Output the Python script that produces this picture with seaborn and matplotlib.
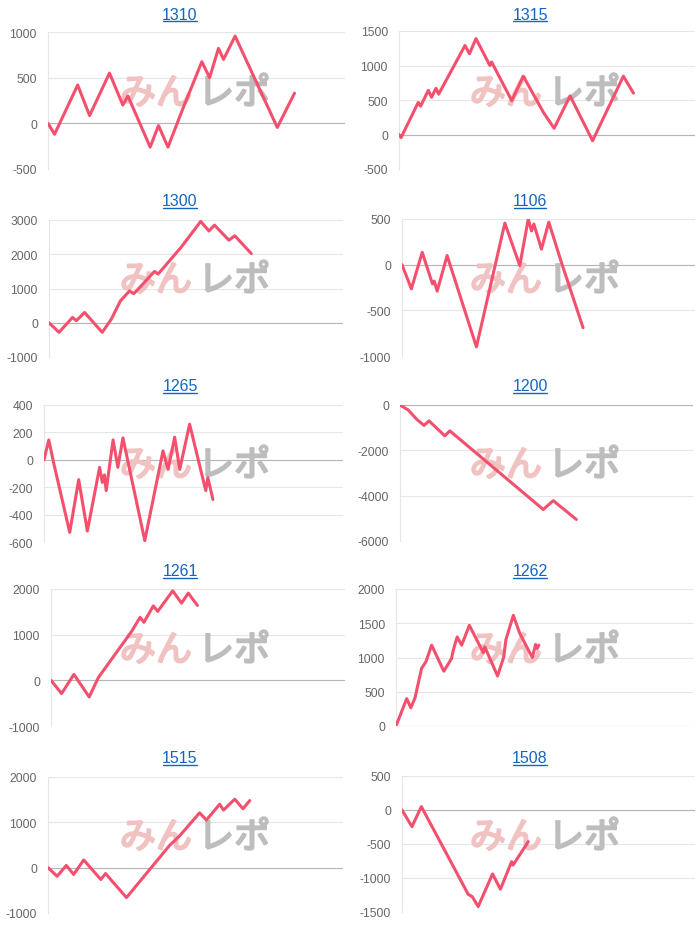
import numpy as np
import matplotlib
matplotlib.use("Agg")
import matplotlib.pyplot as plt
import matplotlib.patheffects as pe
from matplotlib.lines import Line2D
import seaborn as sns

# store names (titles) in grid order
stores = ["1310", "1315", "1300", "1106", "1265", "1200", "1261", "1262", "1515", "1508"]

# x = progress of the day (0..100), y = cumulative balance
x_1310 = [0, 2.2, 10.0, 14.0, 20.7, 25.2, 26.9, 34.4, 37.2, 40.4, 45.4, 51.8, 54.4, 57.4, 59.1, 63.0, 77.2, 83.0]
y_1310 = [0, -120, 420, 85, 550, 200, 300, -260, -25, -260, 160, 675, 500, 820, 700, 955, -45, 330]

x_1315 = [0, 0.7, 6.5, 7.3, 9.9, 11.0, 12.5, 13.4, 22.3, 23.8, 26.0, 30.7, 31.3, 38.1, 42.0, 48.8, 52.4, 57.8, 65.4, 75.8, 79.2]
y_1315 = [0, -45, 465, 410, 640, 540, 670, 585, 1290, 1170, 1390, 1000, 1050, 490, 845, 320, 90, 560, -90, 845, 600]

x_1300 = [0, 3.4, 8.0, 9.3, 12.1, 18.1, 21.2, 24.3, 27.4, 28.8, 30.3, 35.9, 37.1, 45.0, 51.6, 54.4, 56.3, 61.2, 63.2, 68.8]
y_1300 = [0, -280, 155, 60, 300, -280, 105, 640, 930, 850, 980, 1500, 1420, 2210, 2960, 2680, 2850, 2410, 2540, 2020]

x_1106 = [0, 3.2, 6.9, 10.4, 11.0, 12.0, 15.4, 25.4, 35.1, 40.2, 43.1, 44.2, 45.0, 47.6, 50.1, 54.4, 61.8]
y_1106 = [0, -265, 135, -210, -180, -290, 100, -900, 455, -10, 500, 370, 445, 170, 465, 25, -690]

x_1265 = [0, 1.6, 3.2, 8.6, 11.6, 14.5, 18.6, 19.5, 20.2, 20.8, 23.1, 24.7, 26.4, 33.7, 39.8, 41.5, 43.7, 45.4, 48.7, 54.1, 54.8, 56.5]
y_1265 = [0, 145, -20, -530, -145, -520, -55, -165, -110, -225, 145, -55, 160, -590, 65, -70, 165, -70, 260, -225, -130, -290]

x_1200 = [0, 2.8, 5.7, 8.2, 9.9, 15.3, 17.0, 48.9, 52.3, 60.2]
y_1200 = [0, -220, -630, -900, -700, -1360, -1140, -4610, -4220, -5050]

x_1261 = [0, 3.6, 7.8, 13.0, 16.1, 27.4, 30.3, 31.6, 34.8, 36.3, 41.4, 44.4, 46.7, 49.8]
y_1261 = [0, -290, 130, -365, 60, 1070, 1380, 1270, 1630, 1510, 1960, 1690, 1910, 1640]

x_1262 = [0, 3.6, 5.0, 6.4, 8.6, 10.1, 12.0, 16.1, 18.7, 19.3, 20.6, 22.1, 24.7, 29.4, 29.9, 34.2, 36.3, 37.0, 39.5, 41.7, 45.9, 47.0, 47.5, 48.1]
y_1262 = [0, 400, 265, 410, 840, 940, 1180, 800, 985, 1110, 1300, 1180, 1470, 1070, 1155, 730, 1010, 1260, 1615, 1350, 1000, 1190, 1130, 1180]

x_1515 = [0, 3.1, 6.2, 8.7, 12.1, 17.9, 19.5, 26.6, 41.2, 44.6, 51.4, 53.7, 58.2, 59.5, 63.3, 66.1, 68.4]
y_1515 = [0, -190, 50, -150, 170, -260, -130, -660, 490, 700, 1210, 1050, 1400, 1270, 1510, 1300, 1480]

x_1508 = [0, 3.4, 6.6, 22.6, 24.0, 26.0, 30.9, 33.6, 37.4, 37.9, 43.1]
y_1508 = [0, -245, 50, -1240, -1275, -1420, -940, -1165, -760, -810, -465]

xs = [x_1310, x_1315, x_1300, x_1106, x_1265, x_1200, x_1261, x_1262, x_1515, x_1508]
ys = [y_1310, y_1315, y_1300, y_1106, y_1265, y_1200, y_1261, y_1262, y_1515, y_1508]

# y axis (min, max, step)
y_ranges = [(-500, 1000, 500), (-500, 1500, 500), (-1000, 3000, 1000), (-1000, 500, 500),
            (-600, 400, 200), (-6000, 0, 2000), (-1000, 2000, 1000), (0, 2000, 500),
            (-1000, 2000, 1000), (-1500, 500, 500)]

# plot area in pixels: left, right, top, bottom
boxes = [(48, 345, 33, 170), (399, 695, 32, 170),
         (49, 343, 221, 358), (402, 695, 220, 357),
         (44, 343, 406, 543), (400, 693, 406, 542),
         (51, 345, 590, 727), (396, 693, 590, 727),
         (48, 343, 778, 914), (402, 695, 777, 913)]
title_y = [15, 202, 387, 572, 759]

W, H = 700, 929
LINE = "#f4506e"
TICK_C = "#666666"
GRID_C = "#e6e6e6"
PINK_WM = "#f0c2c2"
GRAY_WM = "#bdbdbd"

sns.set_style("white")
plt.rcParams["font.family"] = ["Liberation Sans", "DejaVu Sans"]
plt.rcParams["axes.unicode_minus"] = False

fig = plt.figure(figsize=(W / 100, H / 100), dpi=100)
titles = []

for i, name in enumerate(stores):
    l, r, t, b = boxes[i]
    ax = fig.add_axes([l / W, 1 - b / H, (r - l) / W, (b - t) / H])
    lo, hi, step = y_ranges[i]
    ax.set_xlim(0, 100)
    ax.set_ylim(lo, hi)
    ax.set_yticks(np.arange(lo, hi + step / 2, step))
    ax.set_xticks([])
    ax.grid(axis="y", color=GRID_C, linewidth=0.8)
    ax.axhline(0, color="#b5b5b5", linewidth=0.8, zorder=1)
    for s in ["top", "right", "bottom"]:
        ax.spines[s].set_visible(False)
    ax.spines["left"].set_color(GRID_C)
    ax.spines["left"].set_linewidth(0.8)
    ax.tick_params(axis="y", length=5, width=0.8, color=GRID_C, labelcolor=TICK_C,
                   labelsize=8.7, pad=3)

    # watermark
    col = i % 2
    row = i // 2
    cx = 195 + 350 * col
    cy = title_y[row] + 80
    ax.text((cx - 3) / W, 1 - cy / H, "みん", transform=fig.transFigure, ha="right", va="center",
            fontsize=26, color=PINK_WM, family=["Noto Sans CJK JP"], zorder=1, clip_on=False,
            path_effects=[pe.withStroke(linewidth=1.5, foreground=PINK_WM)])
    ax.text((cx + 3) / W, 1 - cy / H, "レポ", transform=fig.transFigure, ha="left", va="center",
            fontsize=26, color=GRAY_WM, family=["Noto Sans CJK JP"], zorder=1, clip_on=False,
            path_effects=[pe.withStroke(linewidth=1.5, foreground=GRAY_WM)])

    sns.lineplot(x=xs[i], y=ys[i], ax=ax, color=LINE, linewidth=2.2, zorder=3,
                 sort=False, estimator=None)
    ax.set_xlabel("")
    ax.set_ylabel("")

    tt = fig.text((180 + 350 * col) / W, 1 - title_y[row] / H, name, ha="center", va="center",
                  fontsize=11.5, color="#1565c0")
    titles.append(tt)

# underline the titles like links
fig.canvas.draw()
renderer = fig.canvas.get_renderer()
for tt in titles:
    bb = tt.get_window_extent(renderer)
    fig.add_artist(Line2D([bb.x0 + 1, bb.x1 - 1], [bb.y0 + 1, bb.y0 + 1], transform=None,
                          color="#1565c0", linewidth=1.0))

fig.savefig("out.png", dpi=100)
